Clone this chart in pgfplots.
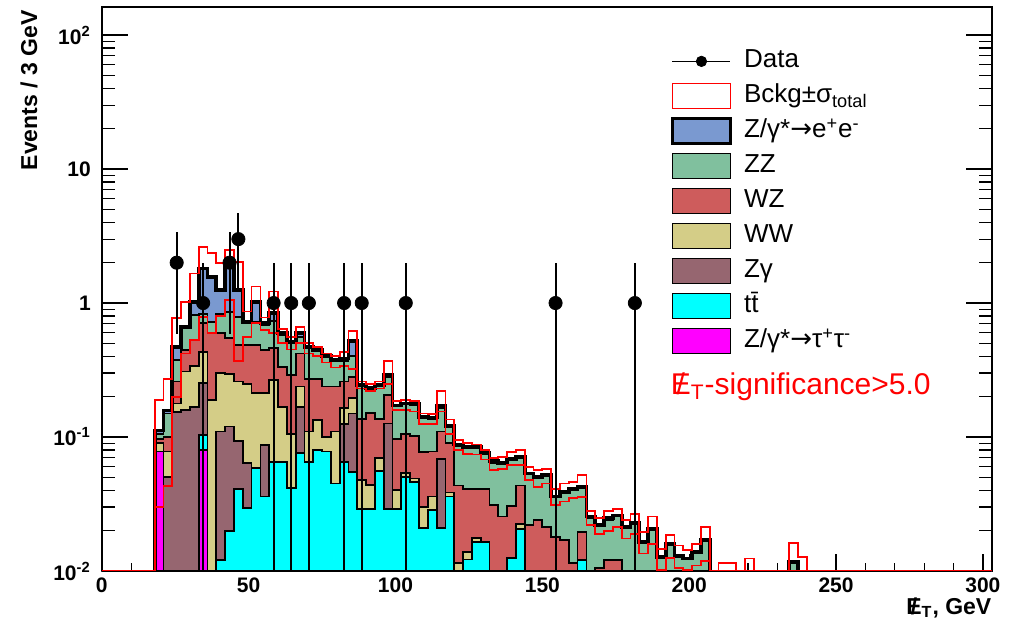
\documentclass[border=0pt]{standalone}
\usepackage{fontspec}
\setmainfont{Liberation Sans}
\newfontfamily\arrowfont{DejaVu Sans}
\usepackage{pgfplots}
\pgfplotsset{compat=1.18}
\usepackage{pgfplotstable}

\definecolor{cEE}{RGB}{122,153,208}
\definecolor{cZZ}{RGB}{128,192,158}
\definecolor{cWZ}{RGB}{206,92,92}
\definecolor{cWW}{RGB}{212,205,135}
\definecolor{cZG}{RGB}{150,102,112}
\definecolor{cTT}{RGB}{0,255,255}
\definecolor{cTAU}{RGB}{255,0,255}

\newcommand{\met}{\ooalign{\hfil/\hfil\cr E}}
\newcommand{\arr}{{\arrowfont →}}

% cumulative stack tops per 3 GeV bin (left edge), 1e-3 = empty
\pgfplotstableread{
x   mag    tt     zg     ww     wz     zz     tot    hi     lo
0   1e-3   1e-3   1e-3   1e-3   1e-3   1e-3   1e-3   0.0101 0.0101
18  0.078  0.078  0.078  0.090  0.096  0.106  0.112  0.188  0.030
21  1e-3   1e-3   0.050  0.078  0.100  0.150  0.158  0.27   0.043
24  1e-3   1e-3   0.154  0.178  0.26   0.376  0.472  0.77   0.20
27  1e-3   1e-3   0.159  0.308  0.446  0.645  0.66   1.02   0.42
30  1e-3   1e-3   0.168  0.337  0.53   0.81   1.02   1.66   0.53
33  0.080  0.103  0.252  0.434  0.705  0.83   1.81   2.63   0.79
36  1e-3   1e-3   1e-3   0.189  0.595  0.72   1.57   2.35   0.60
39  1e-3   0.012  0.110  0.30   0.595  0.83   1.25   1.98   0.80
42  1e-3   0.020  0.12   0.294  0.545  0.86   1.92   2.49   1.05
45  1e-3   0.041  0.0935 0.26   0.486  0.79   1.25   2.03   0.37
48  1e-3   0.0295 0.0636 0.248  0.486  0.705  0.726  0.864  0.56
51  1e-3   0.0585 0.0585 0.212  0.486  0.726  1.02   1.33   0.705
54  1e-3   0.036  0.087  0.212  0.446  0.69   0.705  0.78   0.63
57  1e-3   0.0655 0.0655 0.266  0.46   0.73   0.84   1.22   0.60
60  1e-3   0.0655 0.0655 0.168  0.335  0.58   0.594  0.64   0.50
63  1e-3   0.0414 0.0414 0.106  0.292  0.50   0.51   0.56   0.45
66  1e-3   0.0755 0.168  0.238  0.42   0.56   0.594  0.66   0.50
69  1e-3   0.0655 0.0655 0.11   0.27   0.46   0.47   0.50   0.42
72  1e-3   0.080  0.080  0.134  0.27   0.44   0.446  0.47   0.40
75  1e-3   0.078  0.078  0.10   0.238  0.395  0.40   0.42   0.36
78  1e-3   0.045  0.045  0.11   0.238  0.37   0.376  0.40   0.33
81  1e-3   0.065  0.125  0.165  0.26   0.37   0.385  0.43   0.34
84  1e-3   0.055  0.150  0.195  0.28   0.40   0.52   0.62   0.32
87  1e-3   0.029  0.029  0.048  0.137  0.24   0.245  0.26   0.23
90  1e-3   0.029  0.029  0.044  0.152  0.23   0.233  0.25   0.22
93  1e-3   0.0555 0.0555 0.070  0.137  0.24   0.245  0.26   0.23
96  1e-3   0.029  0.126  0.126  0.207  0.28   0.29   0.367  0.25
99  1e-3   0.029  0.029  0.040  0.097  0.17   0.172  0.185  0.16
102 1e-3   0.050  0.050  0.054  0.105  0.175  0.178  0.19   0.16
105 1e-3   0.046  0.046  0.049  0.102  0.172  0.178  0.185  0.155
108 1e-3   0.021  0.021  0.030  0.077  0.14   0.142  0.15   0.125
111 1e-3   0.0285 0.0285 0.036  0.078  0.135  0.14   0.148  0.125
114 1e-3   0.0208 0.069  0.069  0.11   0.165  0.17   0.22   0.155
117 1e-3   0.036  0.036  0.0385 0.09   0.118  0.121  0.135  0.105
120 1e-3   1e-3   1e-3   0.0115 0.0435 0.086  0.088  0.095  0.08
123 1e-3   0.0122 0.0122 0.0138 0.041  0.083  0.084  0.09   0.075
126 1e-3   0.0164 0.0164 0.0177 0.041  0.082  0.084  0.088  0.074
129 1e-3   0.0164 0.0164 0.0164 0.041  0.074  0.0755 0.08   0.068
132 1e-3   1e-3   1e-3   1e-3   0.031  0.064  0.066  0.07   0.057
135 1e-3   1e-3   1e-3   1e-3   0.0255 0.063  0.064  0.071  0.058
138 1e-3   0.0125 0.0125 0.0125 0.0305 0.068  0.069  0.077  0.062
141 1e-3   0.0207 0.0207 0.0225 0.0435 0.070  0.071  0.080  0.062
144 1e-3   1e-3   1e-3   1e-3   0.022  0.053  0.0535 0.06   0.048
147 1e-3   1e-3   1e-3   1e-3   0.024  0.050  0.0506 0.057  0.0426
150 1e-3   1e-3   1e-3   1e-3   0.0214 0.051  0.052  0.058  0.045
153 1e-3   1e-3   1e-3   1e-3   0.018  0.0355 0.036  0.041  0.031
156 1e-3   1e-3   1e-3   1e-3   0.017  0.038  0.039  0.045  0.033
159 1e-3   1e-3   1e-3   1e-3   0.0115 0.040  0.041  0.046  0.035
162 1e-3   0.0121 0.0121 0.0121 0.0195 0.042  0.0426 0.052  0.0359
165 1e-3   1e-3   1e-3   1e-3   1e-3   0.025  0.0255 0.028  0.022
168 1e-3   1e-3   1e-3   1e-3   0.0106 0.0215 0.022  0.025  0.019
171 1e-3   1e-3   1e-3   1e-3   0.012  0.024  0.0247 0.028  0.020
174 1e-3   1e-3   1e-3   1e-3   0.012  0.0255 0.026  0.029  0.0214
177 1e-3   1e-3   1e-3   1e-3   1e-3   0.021  0.0214 0.024  0.0175
180 1e-3   1e-3   1e-3   1e-3   1e-3   0.0225 0.023  0.0265 0.019
183 1e-3   1e-3   1e-3   1e-3   1e-3   0.0162 0.0165 0.0195 0.0135
186 1e-3   1e-3   1e-3   1e-3   1e-3   0.0203 0.0206 0.0255 0.016
189 1e-3   1e-3   1e-3   1e-3   1e-3   0.0125 0.0127 0.0145 0.0102
192 1e-3   1e-3   1e-3   1e-3   1e-3   0.0157 0.016  0.0186 0.0125
195 1e-3   1e-3   1e-3   1e-3   1e-3   0.0128 0.013  0.0155 0.0105
198 1e-3   1e-3   1e-3   1e-3   1e-3   0.0122 0.0124 0.0143 0.0102
201 1e-3   1e-3   1e-3   1e-3   1e-3   0.0137 0.0139 0.0158 0.011
204 1e-3   1e-3   1e-3   1e-3   1e-3   0.0167 0.017  0.0214 0.0118
207 1e-3   1e-3   1e-3   1e-3   1e-3   1e-3   1e-3   0.0101 0.0101
210 1e-3   1e-3   1e-3   1e-3   1e-3   1e-3   1e-3   0.0115 0.0101
213 1e-3   1e-3   1e-3   1e-3   1e-3   1e-3   1e-3   0.0115 0.0101
216 1e-3   1e-3   1e-3   1e-3   1e-3   1e-3   1e-3   0.0101 0.0101
219 1e-3   1e-3   1e-3   1e-3   1e-3   1e-3   1e-3   0.0124 0.0101
222 1e-3   1e-3   1e-3   1e-3   1e-3   1e-3   1e-3   0.0101 0.0101
234 1e-3   1e-3   1e-3   1e-3   1e-3   0.0115 0.0117 0.0161 0.0101
237 1e-3   1e-3   1e-3   1e-3   1e-3   1e-3   1e-3   0.0127 0.0101
240 1e-3   1e-3   1e-3   1e-3   1e-3   1e-3   1e-3   0.0101 0.0101
303 1e-3   1e-3   1e-3   1e-3   1e-3   1e-3   1e-3   0.0101 0.0101
}\hist

% data: bin centre, events, sqrt(N) errors
\pgfplotstableread{
x     y  ep     em
25.5  2  1.414  1.414
34.5  1  1      0.999
43.5  2  1.414  1.414
46.5  3  1.732  1.732
58.5  1  1      0.999
64.5  1  1      0.999
70.5  1  1      0.999
82.5  1  1      0.999
88.5  1  1      0.999
103.5 1  1      0.999
154.5 1  1      0.999
181.5 1  1      0.999
}\data

\begin{document}
\begin{tikzpicture}
\begin{axis}[
    scale only axis,
    width=444.95pt, height=282pt,
    ymode=log, log origin y=infty,
    xmin=0, xmax=303, ymin=0.01, ymax=162,
    axis line style={line width=0.9pt},
    tick align=inside,
    xtick pos=left, ytick pos=both,
    xtick={0,50,100,150,200,250,300},
    xticklabels={0,50,100,150,200,250,300},
    minor x tick num=4,
    ytick={0.01,0.1,1,10,100},
    yticklabels={10\textsuperscript{-2},10\textsuperscript{-1},1,10,10\textsuperscript{2}},
    minor ytick={0.02,0.03,0.04,0.05,0.06,0.07,0.08,0.09,0.2,0.3,0.4,0.5,0.6,0.7,0.8,0.9,2,3,4,5,6,7,8,9,20,30,40,50,60,70,80,90},
    major tick length=13pt, minor tick length=6.5pt,
    xtick style={/pgfplots/major tick length=8.5pt, /pgfplots/minor tick length=4.25pt},
    tick style={black, line width=0.6pt},
    tick label style={font=\bfseries\fontsize{10.5}{11}\selectfont},
    yticklabel style={xshift=-2pt},
    xlabel={\met\textsubscript{T}, GeV},
    xlabel style={at={(rel axis cs:1,0)}, anchor=north east, yshift=-13pt, inner sep=0pt, font=\bfseries\fontsize{11.5}{12}\selectfont},
    ylabel={Events / 3 GeV},
    ylabel style={at={([xshift=-40.9pt,yshift=-1.5pt]rel axis cs:0,1)}, anchor=north east, inner sep=0pt, font=\bfseries\fontsize{11.5}{12}\selectfont},
    legend image code/.code={\draw[#1] (0pt,-6.25pt) rectangle (29pt,6.25pt);},
    legend cell align=left,
    legend style={at={(rel axis cs:0.639,0.930)}, anchor=north west, draw=none, fill=none,
        inner sep=0pt, row sep=3pt, font=\fontsize{13}{13}\selectfont,
        nodes={inner sep=1pt, text height=9.5pt, text depth=3pt},
        /tikz/every odd column/.append style={column sep=5pt}},
]
% stack, drawn from the top layer down
\addplot[const plot, fill=cEE, draw=black, line width=0.9pt, forget plot] table[x=x, y=tot] {\hist} \closedcycle;
\addplot[const plot, fill=cZZ, draw=black, line width=0.9pt, forget plot] table[x=x, y=zz] {\hist} \closedcycle;
\addplot[const plot, fill=cWZ, draw=black, line width=0.9pt, forget plot] table[x=x, y=wz] {\hist} \closedcycle;
\addplot[const plot, fill=cWW, draw=black, line width=0.9pt, forget plot] table[x=x, y=ww] {\hist} \closedcycle;
\addplot[const plot, fill=cZG, draw=black, line width=0.9pt, forget plot] table[x=x, y=zg] {\hist} \closedcycle;
\addplot[const plot, fill=cTT, draw=black, line width=0.9pt, forget plot] table[x=x, y=tt] {\hist} \closedcycle;
\addplot[const plot, fill=cTAU, draw=black, line width=0.9pt, forget plot] table[x=x, y=mag] {\hist} \closedcycle;
\addplot[const plot, draw=black, line width=1.9pt, forget plot] table[x=x, y=tot] {\hist};
% background +- sigma band
\addplot[const plot, draw=red, line width=0.9pt, forget plot] table[x=x, y=hi] {\hist};
\addplot[const plot, draw=red, line width=0.9pt, forget plot] table[x=x, y=lo] {\hist};
% data
\addplot[only marks, mark=*, mark size=3.3pt, black, forget plot,
    error bars/.cd, y dir=both, y explicit, error mark=none,
    error bar style={black, line width=1pt}]
    table[x=x, y=y, y error plus=ep, y error minus=em] {\data};

\addlegendimage{legend image code/.code={\draw[black, line width=0.7pt] (0pt,0pt) -- (29pt,0pt); \fill[black] (14.5pt,0pt) circle (2.6pt);}}
\addlegendentry{Data}
\addlegendimage{draw=red, fill=white, line width=0.6pt}
\addlegendentry{Bckg±σ\textsubscript{total}}
\addlegendimage{draw=black, fill=cEE, line width=1.6pt}
\addlegendentry{Z/γ*\arr e\textsuperscript{+}e\textsuperscript{-}}
\addlegendimage{draw=black, fill=cZZ, line width=0.6pt}
\addlegendentry{ZZ}
\addlegendimage{draw=black, fill=cWZ, line width=0.6pt}
\addlegendentry{WZ}
\addlegendimage{draw=black, fill=cWW, line width=0.6pt}
\addlegendentry{WW}
\addlegendimage{draw=black, fill=cZG, line width=0.6pt}
\addlegendentry{Zγ}
\addlegendimage{draw=black, fill=cTT, line width=0.6pt}
\addlegendentry{t\={t}}
\addlegendimage{draw=black, fill=cTAU, line width=0.6pt}
\addlegendentry{Z/γ*\arr τ\textsuperscript{+}τ\textsuperscript{-}}

\node[anchor=west, text=red, inner sep=0pt, font=\fontsize{15}{16}\selectfont] at (rel axis cs:0.639,0.326) {\met\textsubscript{T}-significance>5.0};
\end{axis}
\pgfresetboundingbox
\path[use as bounding box] ([xshift=-50.9pt,yshift=-29.5pt]current axis.south west) rectangle ([xshift=14.15pt,yshift=3.5pt]current axis.north east);
\end{tikzpicture}
\end{document}
